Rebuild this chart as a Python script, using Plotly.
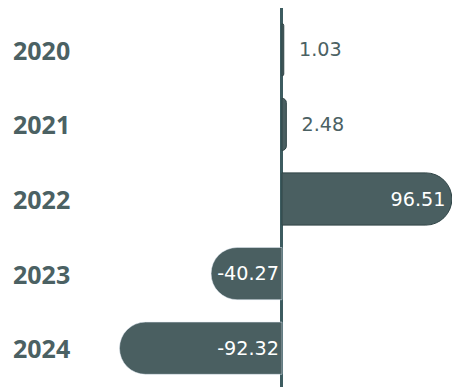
import plotly.graph_objects as go

years = ["2020", "2021", "2022", "2023", "2024"]
values = [1.03, 2.48, 96.51, -40.27, -92.32]
labels = ["1.03", "2.48", "96.51", "-40.27", "-92.32"]

BAR = "#4a5f61"
TXT = "#4b6163"
LINE = "#3d5c60"

pos_idx = [i for i, v in enumerate(values) if v >= 0]
neg_idx = [i for i, v in enumerate(values) if v < 0]

fig = go.Figure()
fig.add_trace(go.Bar(
    y=[years[i] for i in pos_idx], x=[values[i] for i in pos_idx],
    orientation="h", text=[labels[i] for i in pos_idx],
    texttemplate="\u00a0\u00a0%{text}",
    textposition=["outside" if values[i] < 20 else "inside" for i in pos_idx],
    insidetextanchor="end",
    textfont=dict(family="DejaVu Sans", size=20),
    insidetextfont=dict(color="white"),
    outsidetextfont=dict(color=TXT),
    marker=dict(color=BAR, cornerradius=26, line=dict(width=1, color="#2f4446")),
    cliponaxis=False,
    hoverinfo="skip",
))
fig.add_trace(go.Bar(
    y=[years[i] for i in neg_idx], x=[values[i] for i in neg_idx],
    orientation="h", text=[labels[i] for i in neg_idx],
    textposition="inside", insidetextanchor="start",
    textfont=dict(family="DejaVu Sans", size=20, color="white"),
    marker=dict(color=BAR, cornerradius=26),
    hoverinfo="skip",
))

for i, y in enumerate(years):
    fig.add_annotation(x=11 / 452, xref="paper", y=i, yref="y", text=f"<b>{y}</b>",
                       xanchor="left", showarrow=False,
                       font=dict(family="Open Sans", size=25, color=TXT))

fig.update_layout(
    width=452, height=387, margin=dict(l=0, r=0, t=8, b=0, autoexpand=False),
    plot_bgcolor="white", paper_bgcolor="white",
    barmode="relative", bargap=0.3, showlegend=False,
    xaxis=dict(range=[-160.2, 96.6], showgrid=False, showticklabels=False,
               zeroline=True, zerolinecolor=LINE, zerolinewidth=3, layer="above traces"),
    yaxis=dict(type="category", categoryorder="array", categoryarray=years,
               range=[4.52, -0.56], showgrid=False, showticklabels=False, zeroline=False),
    uniformtext=dict(minsize=8, mode="show"),
)
fig.write_html("out.html", config={"displayModeBar": False},
               post_script="document.body.style.margin='0';document.body.style.overflow='hidden';")
